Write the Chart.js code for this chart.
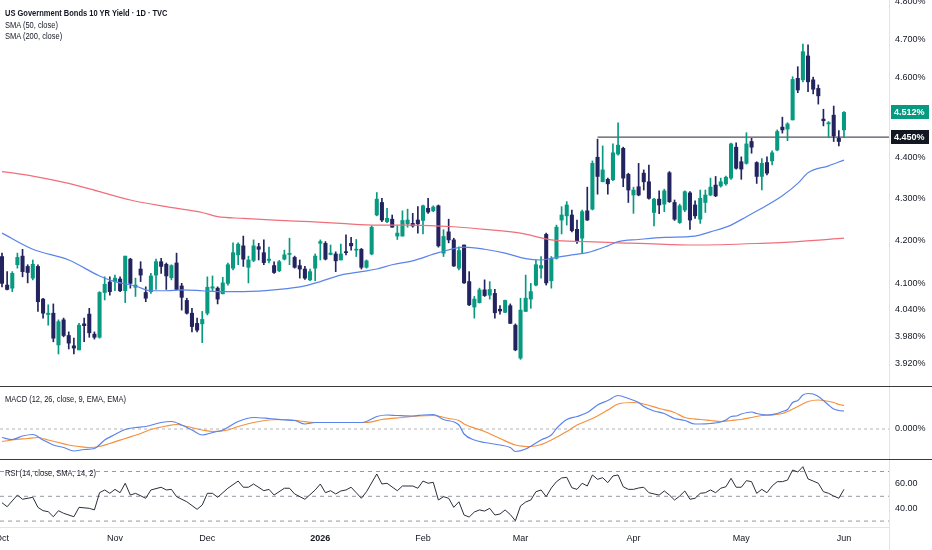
<!DOCTYPE html>
<html><head><meta charset="utf-8">
<script src="https://cdn.jsdelivr.net/npm/chart.js@4.4.1/dist/chart.umd.min.js"></script>
<style>
html,body{margin:0;padding:0;background:#fff;width:932px;height:550px;overflow:hidden;position:relative;}
.pane{position:absolute;left:0;width:932px;}
.sep{position:absolute;left:0;width:932px;height:1px;background:#3a3a3a;}
.lbl{position:absolute;left:5px;font-family:"Liberation Sans",Arial,sans-serif;font-size:9.5px;line-height:11px;color:#131722;white-space:nowrap;transform:scaleX(0.79);transform-origin:0 0;}
</style></head><body>
<div class="pane" style="top:0;height:386px"><canvas id="cMain"></canvas></div>
<div class="sep" style="top:386px"></div>
<div class="pane" style="top:387px;height:72px"><canvas id="cMacd"></canvas></div>
<div class="sep" style="top:459px"></div>
<div class="pane" style="top:460px;height:90px"><canvas id="cRsi"></canvas></div>
<div style="position:absolute;left:889px;top:527px;width:1px;height:23px;background:#e0e3eb"></div>
<div class="lbl" style="top:6.5px;font-weight:bold">US Government Bonds 10 YR Yield · 1D · TVC</div>
<div class="lbl" style="top:18.5px">SMA (50, close)</div>
<div class="lbl" style="top:29.5px">SMA (200, close)</div>
<div class="lbl" style="top:393px">MACD (12, 26, close, 9, EMA, EMA)</div>
<div class="lbl" style="top:466.5px">RSI (14, close, SMA, 14, 2)</div>
<script>
// ---------- data (daily candles, yield in %) ----------
const opens = [4.162,4.096,4.089,4.143,4.163,4.139,4.112,4.139,4.064,4.029,
4.032,3.961,4.017,3.982,3.959,3.950,4.008,4.030,3.985,3.978,
4.079,4.103,4.104,4.110,4.083,4.156,4.091,4.133,4.079,4.081,
4.119,4.150,4.144,4.113,4.147,4.094,4.061,4.032,4.009,4.008,
4.032,4.089,4.089,4.076,4.100,4.135,4.166,4.187,4.137,4.153,
4.185,4.171,4.153,4.141,4.129,4.156,4.167,4.160,4.141,4.133,
4.108,4.135,4.193,4.193,4.167,4.168,4.154,4.173,4.193,4.177,
4.179,4.137,4.168,4.260,4.290,4.244,4.250,4.210,4.210,4.239,
4.240,4.248,4.247,4.276,4.270,4.282,4.170,4.220,4.201,4.135,
4.189,4.104,4.046,4.056,4.085,4.073,4.077,4.041,4.034,4.049,
4.005,3.932,4.036,4.064,4.096,4.135,4.214,4.106,4.158,4.248,
4.258,4.260,4.226,4.205,4.270,4.274,4.400,4.340,4.346,4.345,
4.408,4.422,4.358,4.308,4.328,4.361,4.340,4.266,4.298,4.286,
4.362,4.290,4.242,4.272,4.313,4.284,4.250,4.290,4.308,4.332,
4.330,4.335,4.349,4.425,4.389,4.385,4.439,4.387,4.353,4.387,
4.391,4.418,4.475,4.470,4.493,4.599,4.595,4.657,4.595,4.573,
4.495,4.483,4.505,4.447,4.468];
const highs = [4.170,4.127,4.127,4.170,4.179,4.143,4.154,4.143,4.066,4.051,
4.053,4.017,4.021,3.990,3.976,4.009,4.021,4.043,3.990,4.081,
4.115,4.115,4.119,4.115,4.163,4.158,4.112,4.150,4.092,4.123,
4.156,4.158,4.147,4.143,4.170,4.100,4.066,4.043,4.021,4.036,
4.115,4.117,4.092,4.114,4.147,4.194,4.194,4.210,4.163,4.201,
4.193,4.201,4.184,4.150,4.153,4.177,4.205,4.163,4.154,4.139,
4.133,4.168,4.201,4.197,4.189,4.173,4.191,4.213,4.207,4.202,
4.181,4.154,4.234,4.314,4.300,4.276,4.260,4.234,4.270,4.274,
4.264,4.280,4.284,4.300,4.282,4.284,4.225,4.250,4.205,4.185,
4.189,4.127,4.070,4.089,4.108,4.104,4.086,4.049,4.062,4.053,
4.008,4.066,4.119,4.100,4.153,4.162,4.217,4.162,4.236,4.280,
4.292,4.272,4.248,4.272,4.327,4.391,4.445,4.428,4.349,4.433,
4.486,4.425,4.361,4.327,4.385,4.369,4.381,4.300,4.318,4.322,
4.365,4.296,4.286,4.318,4.316,4.294,4.320,4.320,4.349,4.353,
4.349,4.354,4.435,4.436,4.401,4.461,4.447,4.389,4.397,4.401,
4.416,4.468,4.500,4.486,4.603,4.629,4.688,4.686,4.602,4.582,
4.520,4.489,4.528,4.466,4.514];
const lows = [4.092,4.085,4.081,4.135,4.115,4.101,4.108,4.036,4.021,4.005,
3.968,3.941,3.979,3.952,3.941,3.950,3.968,3.978,3.974,3.976,
4.062,4.073,4.083,4.081,4.056,4.089,4.070,4.104,4.058,4.077,
4.086,4.123,4.086,4.108,4.085,4.039,4.030,3.990,3.990,3.966,
4.028,4.081,4.053,4.076,4.096,4.131,4.143,4.139,4.101,4.150,
4.154,4.143,4.147,4.123,4.127,4.154,4.143,4.135,4.112,4.109,
4.106,4.106,4.154,4.154,4.166,4.127,4.154,4.166,4.177,4.162,
4.133,4.135,4.166,4.258,4.244,4.242,4.231,4.202,4.210,4.231,
4.231,4.217,4.215,4.264,4.268,4.184,4.162,4.194,4.139,4.131,
4.100,4.049,4.021,4.055,4.070,4.064,4.021,4.030,4.033,4.009,
3.948,3.929,4.036,4.043,4.094,4.112,4.096,4.089,4.156,4.215,
4.236,4.220,4.193,4.171,4.247,4.272,4.310,4.340,4.310,4.343,
4.405,4.328,4.290,4.264,4.306,4.320,4.298,4.234,4.263,4.268,
4.290,4.247,4.240,4.268,4.226,4.252,4.240,4.266,4.306,4.304,
4.327,4.332,4.346,4.371,4.346,4.383,4.410,4.336,4.320,4.357,
4.381,4.416,4.460,4.441,4.493,4.562,4.590,4.565,4.559,4.533,
4.478,4.450,4.439,4.428,4.450];
const closes = [4.100,4.086,4.123,4.160,4.127,4.125,4.144,4.058,4.032,4.032,
3.976,4.013,3.982,3.965,3.954,4.005,4.004,3.988,3.978,4.079,
4.098,4.081,4.112,4.083,4.163,4.100,4.096,4.119,4.066,4.117,
4.150,4.139,4.117,4.141,4.086,4.068,4.032,4.002,3.994,4.018,
4.091,4.092,4.064,4.101,4.143,4.171,4.191,4.156,4.154,4.187,
4.179,4.148,4.156,4.125,4.150,4.166,4.169,4.137,4.133,4.112,
4.127,4.163,4.197,4.156,4.170,4.152,4.168,4.171,4.187,4.179,
4.137,4.152,4.231,4.298,4.248,4.252,4.231,4.217,4.247,4.248,
4.234,4.239,4.282,4.267,4.279,4.187,4.209,4.201,4.140,4.176,
4.101,4.051,4.064,4.085,4.072,4.086,4.033,4.037,4.061,4.009,
3.950,4.039,4.066,4.081,4.143,4.141,4.101,4.158,4.231,4.260,
4.284,4.223,4.199,4.268,4.248,4.385,4.353,4.369,4.335,4.411,
4.430,4.349,4.320,4.320,4.308,4.340,4.300,4.298,4.284,4.318,
4.292,4.250,4.282,4.316,4.248,4.258,4.300,4.308,4.327,4.306,
4.340,4.351,4.433,4.373,4.371,4.433,4.425,4.353,4.385,4.361,
4.411,4.464,4.468,4.483,4.596,4.569,4.668,4.590,4.571,4.554,
4.491,4.486,4.453,4.439,4.512];

// SMA readings (bar index, value)
const sma50Idx = [0,6,13,19,22,26,29,32,35,39,42,47,54,59,62,66,70,73,76,80,85,90,94,98,102,105,107,111,114,118,120,124,129,135,138,142,145,148,152,155,157,161,164];
const sma50Val = [4.217,4.179,4.154,4.117,4.104,4.094,4.083,4.083,4.085,4.083,4.081,4.081,4.086,4.094,4.104,4.119,4.127,4.133,4.143,4.152,4.171,4.184,4.179,4.170,4.157,4.154,4.158,4.166,4.171,4.187,4.197,4.202,4.207,4.210,4.220,4.236,4.256,4.276,4.306,4.336,4.362,4.379,4.393];
const sma200Idx = [0,6,13,19,25,32,39,42,47,54,60,66,73,80,88,94,101,107,114,120,124,135,148,155,164];
const sma200Val = [4.365,4.354,4.336,4.316,4.296,4.280,4.266,4.256,4.252,4.247,4.244,4.240,4.236,4.236,4.232,4.226,4.217,4.201,4.197,4.194,4.193,4.189,4.193,4.197,4.205];

// MACD readings (bar index, value in %)
const macdIdx = [0,2,4,6,8,10,12,14,16,18,20,22,24,26,28,31,33,35,37,39,41,43,46,49,52,55,57,59,61,64,68,70,71,73,75,77,80,82,84,86,89,90,92,94,97,99,100,102,105,107,108,110,112,114,116,118,120,122,124,125,127,129,131,133,135,136,138,140,141,142,143,144,146,147,148,149,151,152,153,154,155,156,157,158,159,160,161,162,163,164];
const macdVal = [-0.017,-0.021,-0.014,-0.011,-0.022,-0.032,-0.037,-0.044,-0.041,-0.039,-0.022,-0.011,-0.001,0.003,0.005,0.013,0.015,0.008,-0.002,-0.012,-0.007,-0.002,0.015,0.023,0.021,0.018,0.017,0.010,0.013,0.013,0.013,0.013,0.015,0.025,0.028,0.027,0.026,0.028,0.029,0.019,0.008,-0.010,-0.022,-0.027,-0.032,-0.037,-0.045,-0.040,-0.022,-0.012,0.001,0.019,0.025,0.033,0.048,0.057,0.067,0.061,0.053,0.045,0.036,0.031,0.021,0.017,0.010,0.010,0.011,0.014,0.018,0.025,0.026,0.030,0.034,0.031,0.029,0.028,0.031,0.035,0.039,0.053,0.057,0.068,0.071,0.070,0.065,0.057,0.048,0.040,0.037,0.036];
const signalIdx = [0,2,5,7,9,11,13,15,17,19,21,24,27,29,32,34,36,39,41,44,46,49,52,55,58,61,64,68,71,74,78,81,84,87,89,90,94,97,100,103,105,107,110,112,115,118,120,123,125,128,131,133,136,138,140,142,144,146,148,150,152,153,155,157,159,160,162,163,164];
const signalVal = [-0.025,-0.022,-0.019,-0.017,-0.022,-0.027,-0.032,-0.035,-0.037,-0.035,-0.029,-0.019,-0.009,-0.001,0.006,0.009,0.005,-0.002,-0.005,-0.002,0.005,0.013,0.018,0.019,0.016,0.013,0.013,0.013,0.013,0.019,0.023,0.026,0.027,0.021,0.017,0.010,-0.005,-0.019,-0.032,-0.035,-0.031,-0.022,-0.005,0.008,0.021,0.038,0.050,0.053,0.050,0.041,0.033,0.023,0.019,0.017,0.015,0.017,0.019,0.023,0.027,0.028,0.031,0.035,0.045,0.055,0.058,0.057,0.053,0.049,0.047];

// RSI readings (bar index, value)
const rsiIdx = [0,1,3,4,6,7,8,9,10,11,12,14,15,17,18,19,20,21,22,23,24,25,26,28,29,31,32,33,34,36,38,39,40,41,42,44,46,47,48,49,51,52,53,55,56,57,59,61,62,63,64,65,66,67,68,69,70,71,73,74,75,77,78,80,81,82,83,84,85,86,87,88,89,90,91,92,93,94,95,96,97,98,99,100,101,102,103,104,105,106,107,108,109,110,111,112,113,114,115,116,117,118,119,120,121,122,123,124,125,126,127,128,129,130,131,132,133,134,135,136,137,138,139,140,141,142,143,144,145,146,147,148,149,150,151,152,153,154,155,156,157,158,159,160,161,162,163,164];
const rsiVal = [44.8,41.6,51.0,47.6,49.2,41.1,38.4,37.6,33.5,38.4,36.3,33.5,41.1,40.3,39.0,52.9,55.1,52.4,55.6,52.9,60.5,51.0,52.4,48.4,55.1,57.3,55.1,55.6,49.7,45.6,39.5,43.0,52.4,52.4,49.2,56.5,62.3,57.3,57.3,59.9,54.5,55.6,51.0,56.5,56.5,51.9,47.6,55.1,59.9,52.9,54.5,51.9,54.3,55.1,57.3,52.9,48.4,53.7,68.0,59.9,60.5,54.5,58.3,58.3,56.5,62.3,60.5,61.3,47.0,49.7,48.4,41.1,45.6,34.9,33.3,37.3,39.0,38.1,40.3,34.9,35.7,39.0,35.3,30.3,42.2,45.4,47.0,53.7,55.1,49.7,56.7,61.8,64.8,65.3,56.9,55.6,60.5,58.3,67.2,63.7,65.0,61.0,66.4,67.2,57.7,55.6,55.6,56.7,57.3,52.9,51.9,51.0,54.3,51.0,47.0,50.2,54.3,47.6,48.4,52.4,52.9,55.1,52.9,56.5,57.7,64.5,57.3,57.3,62.6,61.8,52.4,55.6,52.9,58.3,61.8,61.8,63.1,71.2,69.6,73.9,64.0,62.3,60.5,53.7,52.4,50.2,48.4,55.6];

// axis labels
const priceTicks = [4.8,4.7,4.6,4.4,4.3,4.2,4.1,4.04,3.98,3.92];
const macdTicks = [0];
const rsiTicks = [60,40];
const rsiLevels = [70,50,30];
const monthIdx = [0,22,40,62,82,101,123,144,164];
const monthLabels = ['Oct','Nov','Dec','2026','Feb','Mar','Apr','May','Jun'];
const levelValue = 4.45;
const levelStartIdx = 116;

// ---------- view settings ----------
const X_MIN = -0.39, X_MAX = 172.77, AXIS_W = 43;
const UP = '#089981', DN = '#23235f';
const FONT = '"Liberation Sans",Arial,sans-serif';
Chart.defaults.font.family = FONT;
Chart.defaults.font.size = 9;
Chart.defaults.color = '#131722';

const ix = closes.map((_, i) => i);
const bull = ix.map(i => closes[i] >= opens[i]);
const pts = (xs, ys) => xs.map((x, k) => ({x, y: ys[k]}));
const hline = (v) => [{x: X_MIN, y: v}, {x: X_MAX, y: v}];

function xAxis(show) {
  return {
    type: 'linear', min: X_MIN, max: X_MAX, bounds: 'data', offset: false, display: show,
    grid: {display: false, drawTicks: false},
    border: {display: true, color: '#e0e3eb'},
    afterBuildTicks(s) { s.ticks = monthIdx.map(v => ({value: v})); },
    ticks: {
      autoSkip: false, maxRotation: 0, minRotation: 0, padding: 6,
      callback: (v) => monthLabels[monthIdx.indexOf(v)],
      font: (c) => ({size: 9, family: FONT, weight: (c.tick && monthLabels[monthIdx.indexOf(c.tick.value)] === '2026') ? 'bold' : 'normal'})
    },
    afterFit(s) { if (show) { s.height = 23; } else { s.height = 0; } s.paddingLeft = 0; s.paddingRight = 0; }
  };
}
function yAxis(extra, tickVals, fmt) {
  return Object.assign({
    position: 'right', bounds: 'data',
    grid: {display: false, drawTicks: false},
    border: {display: true, color: '#e0e3eb'},
    afterBuildTicks(s) { s.ticks = tickVals.map(v => ({value: v})); },
    ticks: {padding: 6, autoSkip: false, color: '#131722', font: {size: 9}, callback: fmt},
    afterFit(s) { s.width = AXIS_W; s.paddingTop = 0; s.paddingBottom = 0; }
  }, extra);
}
const baseOpts = {
  responsive: true, maintainAspectRatio: false, animation: false, events: [],
  layout: {padding: 0},
  plugins: {legend: {display: false}, tooltip: {enabled: false}}
};

const tagPlugin = {
  id: 'tags',
  afterDraw(chart) {
    const ctx = chart.ctx, ys = chart.scales.y, r = chart.chartArea.right;
    const tags = [{v: levelValue, bg: '#131722'}, {v: closes[closes.length - 1], bg: UP}];
    ctx.save();
    ctx.font = 'bold 9px ' + FONT;
    ctx.textBaseline = 'middle';
    ctx.textAlign = 'left';
    tags.forEach(t => {
      const y = ys.getPixelForValue(t.v);
      ctx.fillStyle = t.bg;
      ctx.fillRect(r + 2, Math.round(y - 7), 38, 14);
      ctx.fillStyle = '#ffffff';
      ctx.fillText(t.v.toFixed(3) + '%', r + 5, y + 0.5);
    });
    ctx.restore();
  }
};

// ---------- main price pane ----------
new Chart(document.getElementById('cMain'), {
  type: 'bar',
  data: {datasets: [
    {type: 'line', data: pts(sma50Idx, sma50Val), borderColor: '#5b84ea', borderWidth: 1.2, pointRadius: 0, cubicInterpolationMode: 'monotone', order: 0},
    {type: 'line', data: pts(sma200Idx, sma200Val), borderColor: '#ef6f7b', borderWidth: 1.2, pointRadius: 0, cubicInterpolationMode: 'monotone', order: 0},
    {type: 'bar', data: ix.map(i => ({x: i, y: [Math.min(opens[i], closes[i]), Math.max(opens[i], closes[i])]})),
      backgroundColor: ix.map(i => bull[i] ? UP : DN), barThickness: 3.4, grouped: false, minBarLength: 1, order: 1},
    {type: 'bar', data: ix.map(i => ({x: i, y: [lows[i], highs[i]]})),
      backgroundColor: ix.map(i => bull[i] ? UP : DN), barThickness: 1, grouped: false, order: 2},
    {type: 'line', data: [{x: levelStartIdx, y: levelValue}, {x: X_MAX, y: levelValue}], borderColor: '#50535e', borderWidth: 1.4, pointRadius: 0, order: 3}
  ]},
  options: Object.assign({}, baseOpts, {
    scales: {
      x: xAxis(false),
      y: yAxis({type: 'logarithmic', min: 3.8709, max: 4.8052}, priceTicks, (v) => Number(v).toFixed(3) + '%')
    }
  }),
  plugins: [tagPlugin]
});

// ---------- MACD pane ----------
new Chart(document.getElementById('cMacd'), {
  type: 'line',
  data: {datasets: [
    {data: pts(macdIdx, macdVal), borderColor: '#5b84ea', borderWidth: 1.2, pointRadius: 0, cubicInterpolationMode: 'monotone', order: 0},
    {data: pts(signalIdx, signalVal), borderColor: '#f5903d', borderWidth: 1.2, pointRadius: 0, cubicInterpolationMode: 'monotone', order: 1},
    {data: hline(0), borderColor: '#b2b5be', borderWidth: 1, borderDash: [3, 3], pointRadius: 0, order: 2}
  ]},
  options: Object.assign({}, baseOpts, {
    scales: {
      x: xAxis(false),
      y: yAxis({type: 'linear', min: -0.060, max: 0.084}, macdTicks, (v) => Number(v).toFixed(3) + '%')
    }
  })
});

// ---------- RSI pane ----------
new Chart(document.getElementById('cRsi'), {
  type: 'line',
  data: {datasets: [
    {data: pts(rsiIdx, rsiVal), borderColor: '#2a2e39', borderWidth: 1, pointRadius: 0, tension: 0, order: 0}
  ].concat(rsiLevels.map(l => ({data: hline(l), borderColor: '#9598a1', borderWidth: 1, borderDash: [4, 4], pointRadius: 0, order: 1})))},
  options: Object.assign({}, baseOpts, {
    scales: {
      x: xAxis(true),
      y: yAxis({type: 'linear', min: 25.24, max: 79.27}, rsiTicks, (v) => Number(v).toFixed(2))
    }
  })
});
</script>
</body></html>
